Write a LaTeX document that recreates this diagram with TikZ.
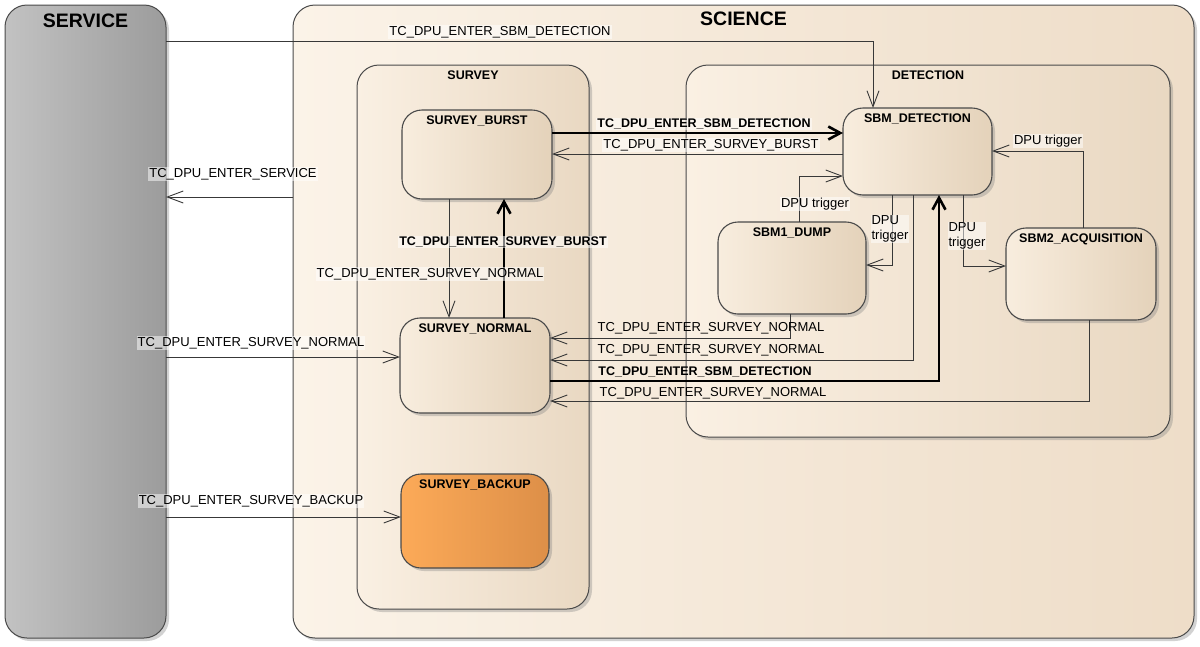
\documentclass[tikz,border=0pt]{standalone}
\usepackage{fontspec}
\setmainfont{Liberation Sans}
\usetikzlibrary{arrows.meta,shadows}
\definecolor{framecol}{HTML}{4A4A4A}
\definecolor{linecol}{HTML}{383838}
\definecolor{srvL}{HTML}{C2C2C2}
\definecolor{srvR}{HTML}{9C9C9C}
\definecolor{sciL}{HTML}{FBF3E8}
\definecolor{sciR}{HTML}{EEDDC8}
\definecolor{subL}{HTML}{FAF0E3}
\definecolor{subR}{HTML}{E9D8C2}
\definecolor{stL}{HTML}{F8EDDE}
\definecolor{stR}{HTML}{E4D2BA}
\definecolor{bkL}{HTML}{FCAA58}
\definecolor{bkR}{HTML}{DD8F48}
\begin{document}
\begin{tikzpicture}[x=1pt,y=-1pt,
  frame/.style={draw=framecol, line width=1pt, rounded corners=22pt, inner sep=0pt, outer sep=0pt,
    drop shadow={shadow xshift=3pt, shadow yshift=-3pt, opacity=0.35}},
  state/.style={draw=framecol, line width=1.1pt, rounded corners=20pt, inner sep=0pt, outer sep=0pt,
    left color=stL, right color=stR,
    drop shadow={shadow xshift=3pt, shadow yshift=-3pt, opacity=0.35}},
  tline/.style={draw=linecol, line width=0.9pt, -{Straight Barb[length=16pt,width=12pt]}},
  kline/.style={draw=black, line width=2.6pt, -{Straight Barb[length=12pt,width=13pt]}},
  lbl/.style={font=\fontsize{13}{15}\selectfont, inner sep=1pt, fill=white, fill opacity=0.5, text opacity=1},
  blbl/.style={lbl, font=\bfseries\fontsize{12.5}{15}\selectfont},
  sname/.style={font=\bfseries\fontsize{12.5}{15}\selectfont, inner sep=1pt},
  title/.style={font=\bfseries\fontsize{19.5}{22}\selectfont, inner sep=1pt}
]
\useasboundingbox (0,0) rectangle (1200,646);
\fill[white] (0,0) rectangle (1200,646);

% frames
\node[frame, left color=srvL, right color=srvR, minimum width=161pt, minimum height=633pt,
  label={[title, anchor=north, yshift=-8pt]north:SERVICE}] (service) at (85.5,321.5) {};
\node[frame, left color=sciL, right color=sciR, minimum width=901pt, minimum height=633pt,
  label={[title, anchor=north, yshift=-6pt]north:SCIENCE}] (science) at (743.5,321.5) {};
\node[frame, left color=subL, right color=subR, minimum width=232pt, minimum height=544pt,
  label={[sname, anchor=north, yshift=-5pt]north:SURVEY}] (survey) at (473,337) {};
\node[frame, left color=subL, right color=subR, minimum width=484pt, minimum height=372pt,
  label={[sname, anchor=north, yshift=-5pt]north:DETECTION}] (detection) at (928,251) {};

% states
\node[state, minimum width=150pt, minimum height=89pt,
  label={[sname, anchor=north, yshift=-5pt]north:SURVEY\_BURST}] (burst) at (477,154.5) {};
\node[state, minimum width=150pt, minimum height=95pt,
  label={[sname, anchor=north, yshift=-5pt]north:SURVEY\_NORMAL}] (normal) at (475,365.5) {};
\node[state, left color=bkL, right color=bkR, minimum width=148pt, minimum height=94pt,
  label={[sname, anchor=north, yshift=-5pt]north:SURVEY\_BACKUP}] (backup) at (475,521) {};
\node[state, minimum width=149pt, minimum height=87pt,
  label={[sname, anchor=north, yshift=-5pt]north:SBM\_DETECTION}] (sbmdet) at (917.5,151.5) {};
\node[state, minimum width=148pt, minimum height=92pt,
  label={[sname, anchor=north, yshift=-5pt]north:SBM1\_DUMP}] (dump) at (792,268) {};
\node[state, minimum width=150pt, minimum height=92pt,
  label={[sname, anchor=north, yshift=-5pt]north:SBM2\_ACQUISITION}] (acq) at (1081,274) {};

% connectors
\draw[tline] (service.east |- 0,41) -| (sbmdet.north -| 873,0);
\draw[tline] (science.west |- 0,197) -- (service.east |- 0,197);
\draw[kline] (burst.east |- 0,133) -- (sbmdet.west |- 0,133);
\draw[tline] (sbmdet.west |- 0,154) -- (burst.east |- 0,154);
\draw[tline] (burst.south -| 449,0) -- (normal.north -| 449,0);
\draw[kline] (normal.north -| 504,0) -- (burst.south -| 504,0);
\draw[tline] (service.east |- 0,357) -- (normal.west |- 0,357);
\draw[tline] (service.east |- 0,517) -- (backup.west |- 0,517);
\draw[tline] (dump.south -| 790,0) |- (normal.east |- 0,338);
\draw[tline] (sbmdet.south -| 913,0) |- (normal.east |- 0,360);
\draw[kline] (normal.east |- 0,381) -| (sbmdet.south -| 939,0);
\draw[tline] (acq.south -| 1089,0) |- (normal.east |- 0,401);
\draw[tline] (dump.north -| 799,0) |- (sbmdet.west |- 0,176);
\draw[tline] (sbmdet.south -| 892,0) |- (dump.east |- 0,265);
\draw[tline] (sbmdet.south -| 963,0) |- (acq.west |- 0,266);
\draw[tline] (acq.north -| 1083,0) |- (sbmdet.east |- 0,151);

% labels
\node[lbl] (t1) at (500,32) {TC\_DPU\_ENTER\_SBM\_DETECTION};
\node[lbl] (t2) at (233,174) {TC\_DPU\_ENTER\_SERVICE};
\node[blbl] (t3) at (704,124) {TC\_DPU\_ENTER\_SBM\_DETECTION};
\node[lbl] (t4) at (711,145) {TC\_DPU\_ENTER\_SURVEY\_BURST};
\node[lbl] (t5) at (430,274) {TC\_DPU\_ENTER\_SURVEY\_NORMAL};
\node[blbl] (t6) at (503,242) {TC\_DPU\_ENTER\_SURVEY\_BURST};
\node[lbl] (t7) at (251,343) {TC\_DPU\_ENTER\_SURVEY\_NORMAL};
\node[lbl] (t8) at (251,501) {TC\_DPU\_ENTER\_SURVEY\_BACKUP};
\node[lbl, fill opacity=0] (t9) at (711,328) {TC\_DPU\_ENTER\_SURVEY\_NORMAL};
\node[lbl, fill opacity=0] (t10) at (711,350) {TC\_DPU\_ENTER\_SURVEY\_NORMAL};
\node[blbl, fill opacity=0] (t11) at (705,372) {TC\_DPU\_ENTER\_SBM\_DETECTION};
\node[lbl, fill opacity=0] (t12) at (713,393) {TC\_DPU\_ENTER\_SURVEY\_NORMAL};
\node[lbl] (t13) at (815,204) {DPU trigger};
\node[lbl, align=left] (t14) at (890,229) {DPU\\trigger};
\node[lbl, align=left] (t15) at (967,236) {DPU\\trigger};
\node[lbl] (t16) at (1048,141) {DPU trigger};
\end{tikzpicture}
\end{document}
